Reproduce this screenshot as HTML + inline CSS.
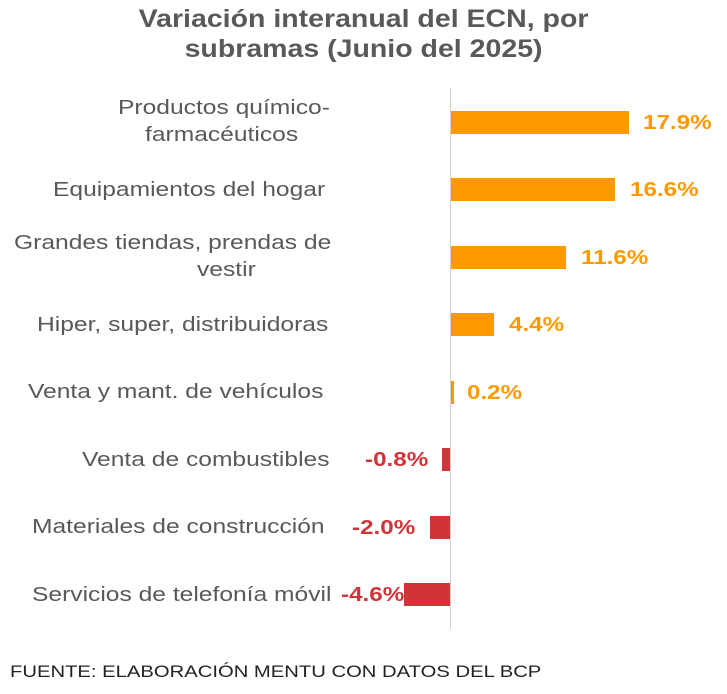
<!DOCTYPE html>
<html><head><meta charset="utf-8"><style>
body{margin:0;width:727px;height:694px;background:#fff;position:relative;overflow:hidden;font-family:"Liberation Sans",Arial,sans-serif}
.t{position:absolute;left:0;width:727px;text-align:center;top:4px;font-size:25px;font-weight:bold;color:#595959;line-height:30px;transform:scaleX(1.14);transform-origin:363px 0}
.l{position:absolute;font-size:20px;color:#595959;white-space:nowrap;line-height:26px;transform:scaleX(1.23);transform-origin:0 0}
.b{position:absolute;height:23px}
.o{background:#FF9900}.r{background:#D13438}
.v{position:absolute;font-size:20px;font-weight:bold;white-space:nowrap;line-height:24px;transform:scaleX(1.21)}
.vo{color:#FF9900;transform-origin:0 0}.vr{color:#D13438;text-align:right;transform-origin:100% 0}
</style></head><body>
<div class="t">Variación interanual del ECN, por<br>subramas (Junio del 2025)</div>
<div style="position:absolute;left:450px;top:88px;width:1px;height:541px;background:#d0d0d0"></div>

<div class="l" style="left:118px;top:95px">Productos químico-</div>
<div class="l" style="left:145px;top:122px">farmacéuticos</div>
<div class="l" style="left:53px;top:177px">Equipamientos del hogar</div>
<div class="l" style="left:14px;top:230px">Grandes tiendas, prendas de</div>
<div class="l" style="left:197px;top:257px">vestir</div>
<div class="l" style="left:37px;top:312px">Hiper, super, distribuidoras</div>
<div class="l" style="left:28px;top:379px">Venta y mant. de vehículos</div>
<div class="l" style="left:82px;top:447px">Venta de combustibles</div>
<div class="l" style="left:32px;top:514px">Materiales de construcción</div>
<div class="l" style="left:32px;top:582px">Servicios de telefonía móvil</div>

<div class="b o" style="left:451px;top:111px;width:178px"></div>
<div class="b o" style="left:451px;top:178px;width:164px"></div>
<div class="b o" style="left:451px;top:246px;width:115px"></div>
<div class="b o" style="left:451px;top:313px;width:43px"></div>
<div class="b o" style="left:451px;top:381px;width:3px"></div>
<div class="b r" style="left:442px;top:448px;width:8px"></div>
<div class="b r" style="left:430px;top:516px;width:20px"></div>
<div class="b r" style="left:404px;top:583px;width:46px"></div>

<div class="v vo" style="left:643px;top:111px">17.9%</div>
<div class="v vo" style="left:630px;top:178px">16.6%</div>
<div class="v vo" style="left:581px;top:246px">11.6%</div>
<div class="v vo" style="left:509px;top:313px">4.4%</div>
<div class="v vo" style="left:467px;top:381px">0.2%</div>
<div class="v vr" style="right:299px;top:448px">-0.8%</div>
<div class="v vr" style="right:312px;top:516px">-2.0%</div>
<div class="v vr" style="right:323px;top:583px">-4.6%</div>

<div style="position:absolute;left:10px;top:662px;font-size:17px;color:#222;white-space:nowrap;transform:scaleX(1.19);transform-origin:0 0">FUENTE: ELABORACIÓN MENTU CON DATOS DEL BCP</div>
</body></html>
